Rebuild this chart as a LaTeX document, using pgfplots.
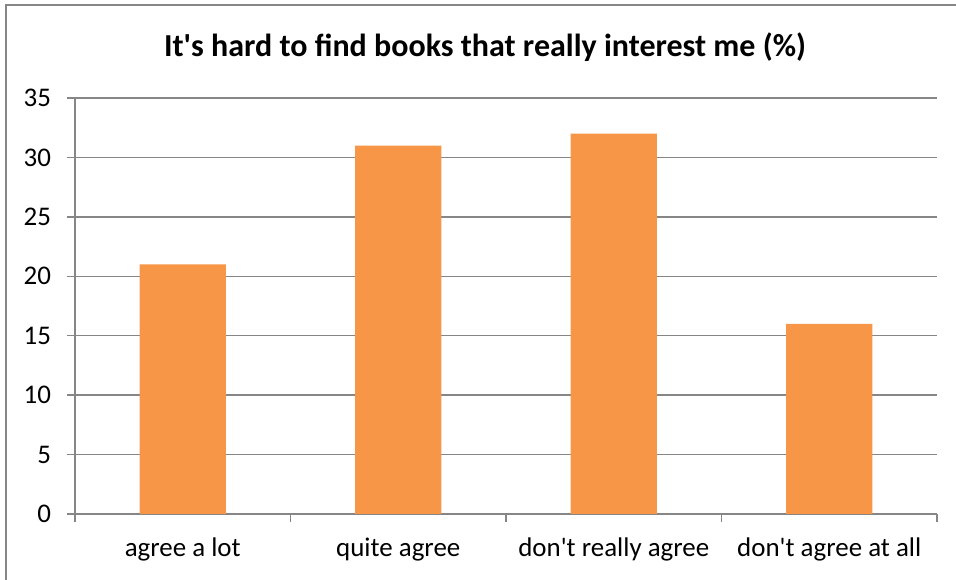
\documentclass[border=0pt]{standalone}
\usepackage{pgfplots}
\pgfplotsset{compat=1.18}
\usepackage{fontspec}
\setmainfont{Carlito}
\definecolor{barorange}{HTML}{F79646}
\definecolor{axgray}{HTML}{868686}
\begin{document}
\begin{tikzpicture}[x=0.75pt,y=0.75pt]
\useasboundingbox (0,0) rectangle (956,580);
\draw[axgray,line width=1.5pt] (5.5,-20) -- (5.5,574.5) -- (980,574.5);
\node[font=\bfseries\fontsize{24}{28}\selectfont] at (485,533) {It\textquotesingle s hard to find books that really interest me (\%)};
\begin{axis}[
  at={(56.25pt,49.5pt)}, anchor=south west,
  scale only axis, width=646.5pt, height=312pt,
  xmin=-0.5, xmax=3.5, ymin=0, ymax=35,
  axis x line*=bottom, axis y line*=left,
  axis line style={axgray,line width=1pt,-},
  xtick={0,1,2,3},
  xticklabels={agree a lot,quite agree,don\textquotesingle t really agree,don\textquotesingle t agree at all},
  minor xtick={-0.5,0.5,1.5,2.5,3.5},
  ytick={0,5,...,35},
  ymajorgrids, grid style={axgray,line width=1pt},
  tick align=outside,
  major tick length=6pt, minor tick length=6pt,
  x tick style={draw=none},
  minor x tick style={axgray,line width=1pt,draw=axgray},
  y tick style={axgray,line width=1pt},
  tick label style={font=\fontsize{20.2}{24}\selectfont},
  xticklabel style={yshift=-8.5pt},
  yticklabel style={xshift=-8.5pt},
  /pgf/number format/assume math mode=true,
  ybar, bar width=0.4,
]
\addplot[fill=barorange,draw=none] coordinates {(0,21) (1,31) (2,32) (3,16)};
\end{axis}
\end{tikzpicture}
\end{document}
